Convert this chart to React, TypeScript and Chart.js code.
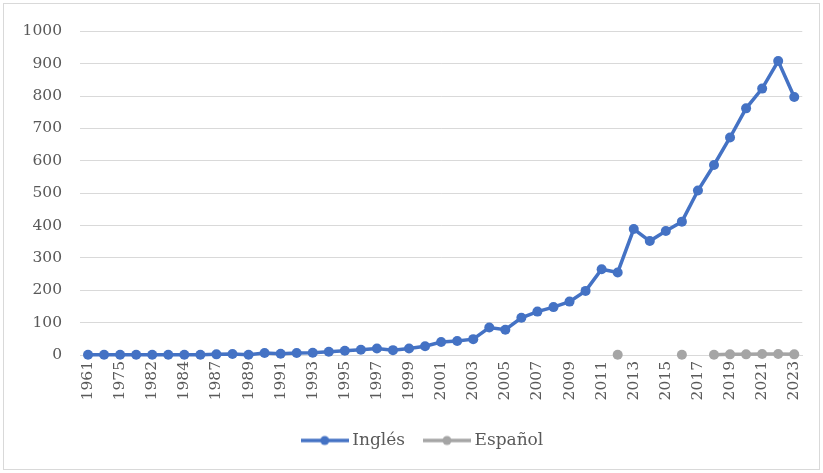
import React, { useEffect, useRef } from 'react';
import { Chart, registerables } from 'chart.js';

Chart.register(...registerables);

const years = [
  '1961', '1970', '1975', '1980', '1982', '1983', '1984', '1986', '1987', '1988',
  '1989', '1990', '1991', '1992', '1993', '1994', '1995', '1996', '1997', '1998',
  '1999', '2000', '2001', '2002', '2003', '2004', '2005', '2006', '2007', '2008',
  '2009', '2010', '2011', '2012', '2013', '2014', '2015', '2016', '2017', '2018',
  '2019', '2020', '2021', '2022', '2023',
];

const ingles = [
  1, 1, 1, 1, 1, 1, 1, 1, 2, 3,
  1, 6, 4, 6, 7, 10, 13, 16, 20, 15,
  20, 27, 40, 43, 49, 85, 78, 115, 134, 148,
  165, 198, 265, 255, 389, 352, 383, 412, 508, 587,
  672, 762, 823, 908, 797,
];

const espanol = [
  null, null, null, null, null, null, null, null, null, null,
  null, null, null, null, null, null, null, null, null, null,
  null, null, null, null, null, null, null, null, null, null,
  null, null, null, 1, null, null, null, 1, null, 1,
  2, 2, 3, 3, 2,
];

const seriesNames = ['Inglés', 'Español'];
const seriesColors = ['#4472C4', '#A5A5A5'];
const yMin = 0;
const yMax = 1000;
const yStep = 100;

const FONT = 'DejaVu Serif';
const TEXT = '#595959';
const GRID = '#D9D9D9';

function legendIcon(color: string): HTMLCanvasElement {
  const c = document.createElement('canvas');
  c.width = 48;
  c.height = 12;
  const ctx = c.getContext('2d')!;
  ctx.strokeStyle = color;
  ctx.lineWidth = 3.5;
  ctx.beginPath();
  ctx.moveTo(0, 6);
  ctx.lineTo(48, 6);
  ctx.stroke();
  ctx.fillStyle = color;
  ctx.beginPath();
  ctx.arc(24, 6, 4.5, 0, Math.PI * 2);
  ctx.fill();
  return c;
}

const legendShift = {
  id: 'legendShift',
  afterLayout(chart: any) {
    const lg = chart.legend;
    if (lg) {
      lg.left += 20;
      lg.right += 20;
    }
  },
};

export default function App() {
  const ref = useRef<HTMLCanvasElement>(null);

  useEffect(() => {
    const icons = seriesColors.map(legendIcon);
    const chart = new Chart(ref.current!, {
      type: 'line',
      plugins: [legendShift],
      data: {
        labels: years,
        datasets: [
          {
            label: seriesNames[0],
            data: ingles,
            borderColor: seriesColors[0],
            backgroundColor: seriesColors[0],
            borderWidth: 3.5,
            pointRadius: 5,
            pointBorderWidth: 0,
            pointBackgroundColor: seriesColors[0],
            tension: 0,
            clip: false,
          },
          {
            label: seriesNames[1],
            data: espanol,
            borderColor: seriesColors[1],
            backgroundColor: seriesColors[1],
            borderWidth: 3.5,
            pointRadius: 5,
            pointBorderWidth: 0,
            pointBackgroundColor: seriesColors[1],
            spanGaps: false,
            tension: 0,
            clip: false,
          },
        ],
      },
      options: {
        responsive: false,
        animation: false,
        layout: { padding: { left: 0, right: 14, top: 25, bottom: 10 } },
        plugins: {
          tooltip: { enabled: false },
          legend: {
            position: 'bottom',
            labels: {
              usePointStyle: true,
              pointStyleWidth: 38,
              padding: 23,
              color: TEXT,
              font: { family: FONT, size: 17 },
              generateLabels: (ch: any) =>
                ch.data.datasets.map((ds: any, i: number) => ({
                  text: ds.label,
                  pointStyle: icons[i],
                  fillStyle: seriesColors[i],
                  strokeStyle: seriesColors[i],
                  lineWidth: 0,
                  hidden: false,
                  datasetIndex: i,
                  fontColor: TEXT,
                })),
            },
          },
        },
        scales: {
          x: {
            offset: true,
            grid: { display: false, drawTicks: false },
            border: { display: true, color: GRID },
            ticks: {
              autoSkip: false,
              maxRotation: 90,
              minRotation: 90,
              padding: 6,
              color: TEXT,
              font: { family: FONT, size: 15.5 },
              callback: (_v: any, i: number) => (i % 2 === 0 ? years[i] : ''),
            },
            afterFit: (s: any) => {
              s.height = 54;
            },
          },
          y: {
            min: yMin,
            max: yMax,
            grid: { color: GRID, drawTicks: false, lineWidth: 1 },
            border: { display: false },
            ticks: {
              stepSize: yStep,
              padding: 18,
              color: TEXT,
              font: { family: FONT, size: 15.5 },
              callback: (v: any) => String(v),
            },
            afterFit: (s: any) => {
              s.width = 76;
            },
          },
        },
      },
    });
    return () => chart.destroy();
  }, []);

  return (
    <div
      style={{
        position: 'absolute',
        left: 3,
        top: 3,
        width: 815,
        height: 465,
        border: '1px solid #D9D9D9',
        background: '#fff',
      }}
    >
      <canvas ref={ref} width={815} height={465} style={{ display: 'block', width: 815, height: 465 }} />
    </div>
  );
}
